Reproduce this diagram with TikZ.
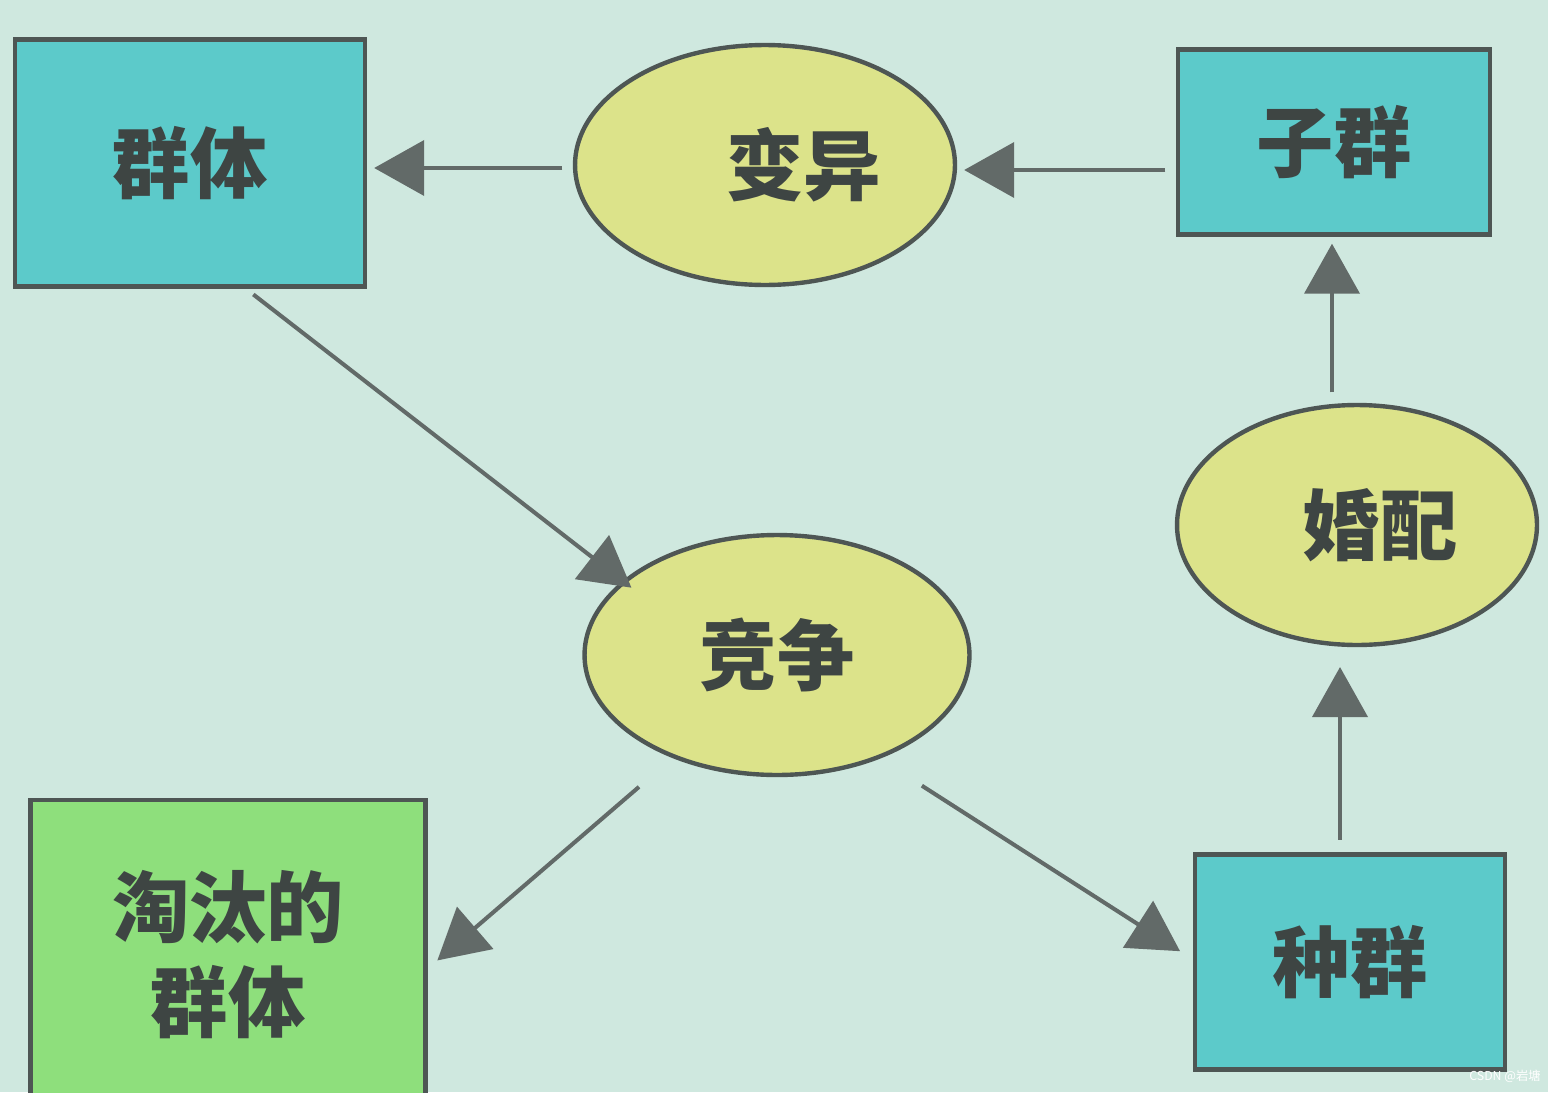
\documentclass[tikz,border=0pt]{standalone}
\usepackage{fontspec}
\setmainfont{Noto Sans CJK SC}
\usetikzlibrary{shapes.geometric,arrows.meta}
\definecolor{bg}{HTML}{CFE8DF}
\definecolor{boxc}{HTML}{5CCACA}
\definecolor{ellc}{HTML}{DCE38A}
\definecolor{grn}{HTML}{8EDF7C}
\definecolor{edge}{HTML}{4E5654}
\definecolor{arr}{HTML}{626A68}
\begin{document}
\begin{tikzpicture}[x=0.02cm,y=-0.02cm,
  box/.style={draw=edge,line width=2.5pt,fill=boxc,rectangle,inner sep=0pt,font=\fontsize{44}{50}\selectfont\bfseries,text=edge!80!black},
  ell/.style={draw=edge,line width=2.5pt,fill=ellc,ellipse,inner sep=0pt,font=\fontsize{44}{50}\selectfont\bfseries,text=edge!80!black},
  arrw/.style={draw=arr,line width=2.3pt,-{Triangle[length=1cm,width=1.1cm]},shorten >=4pt,shorten <=6pt}]
\fill[bg] (0,0) rectangle (1548,1092);
\useasboundingbox (0,0) rectangle (1548,1092);
\node[box,minimum width=7cm,minimum height=4.94cm] (qt) at (190,163) {群体};
\node[ell,minimum width=7.6cm,minimum height=4.8cm] (by) at (765,165) {\hspace{1em}变异};
\node[box,minimum width=6.24cm,minimum height=3.7cm] (zq) at (1334,142) {子群};
\node[ell,minimum width=7.2cm,minimum height=4.8cm] (hp) at (1357,525) {\hspace{0.6em}婚配};
\node[ell,minimum width=7.7cm,minimum height=4.8cm] (jz) at (777,655) {竞争};
\node[draw=edge,line width=2.5pt,fill=grn,minimum width=7.9cm,minimum height=6.2cm,inner sep=0pt,align=center,font=\fontsize{44}{54}\selectfont\bfseries,text=edge!80!black] (tt) at (228,955) {淘汰的\\群体};
\node[box,minimum width=6.2cm,minimum height=4.3cm] (zhq) at (1350,962) {种群};
\node[font=\fontsize{7}{8}\selectfont,text=white] (wm) at (1505,1076) {CSDN @岩塘};
\draw[arrw] (zq.west |- 0,170) -- (by.east |- 0,170);
\draw[arrw] (by.west |- 0,168) -- (qt.east |- 0,168);
\draw[arrw] (245,288) coordinate (a1) -- (637,592) coordinate (a2);
\draw[arrw] (647,780) coordinate (b1) -- (432,965) coordinate (b2);
\draw[arrw] (913,780) coordinate (c1) -- (1186,955) coordinate (c2);
\draw[arrw] (zhq.north -| 1340,0) ++(0,-2) -- (1340,660) coordinate (d2);
\draw[arrw] (hp.north -| 1332,0) -- (zq.south -| 1332,0);
\end{tikzpicture}
\end{document}
